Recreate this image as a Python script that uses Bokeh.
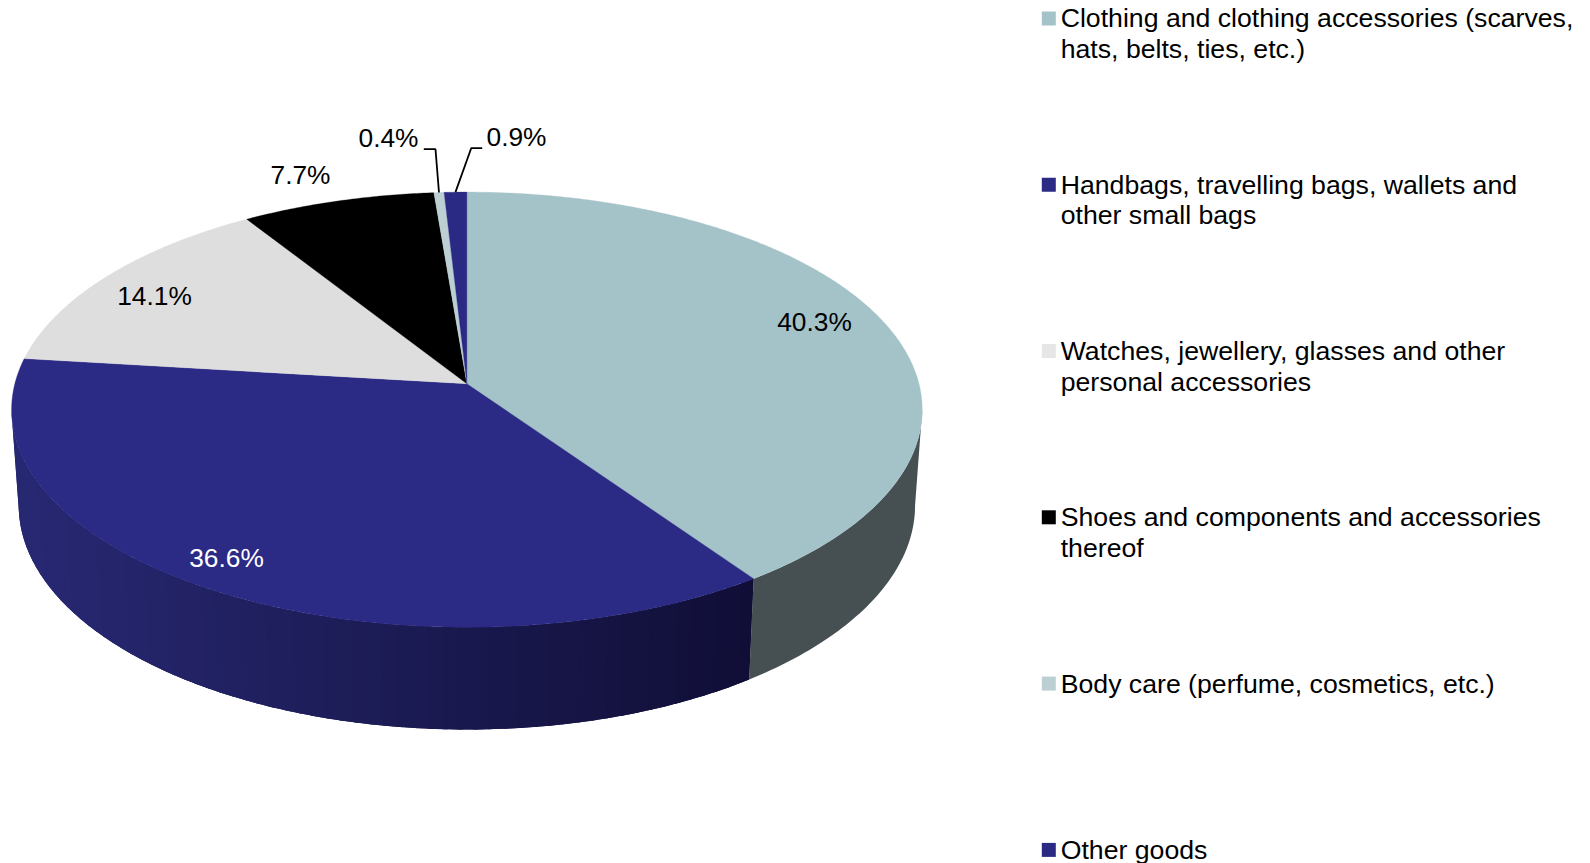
import numpy as np
from bokeh.plotting import figure
from bokeh.models import Range1d
from bokeh.core.properties import value
from bokeh.embed import file_html
from bokeh.resources import INLINE

categories = [
    ["Clothing and clothing accessories (scarves,", "hats, belts, ties, etc.)"],
    ["Handbags, travelling bags, wallets and", "other small bags"],
    ["Watches, jewellery, glasses and other", "personal accessories"],
    ["Shoes and components and accessories", "thereof"],
    ["Body care (perfume, cosmetics, etc.)"],
    ["Other goods"],
]
shares = [40.3, 36.6, 14.1, 7.7, 0.4, 0.9]
labels = ["40.3%", "36.6%", "14.1%", "7.7%", "0.4%", "0.9%"]
colors = ["#A4C3C8", "#2B2A85", "#DEDEDE", "#000000", "#BCCFD3", "#2A2A85"]
swatch_colors = ["#A4C3C8", "#2B2A85", "#E6E6E6", "#000000", "#BCCFD3", "#2A2A85"]
label_colors = ["#000000", "#FFFFFF", "#000000", "#000000", "#000000", "#000000"]

# Layout of the tilted disc (page pixels)
CX, CY, BX, AY, K = 466.4, 383.3, 452.1, 214.5, 0.1188
CY2, BX2, AY2 = 478.2, 445.0, 221.0
label_pos = [(814, 321.5), (226, 557), (154, 295), (300, 174.5), (388, 137.5), (516, 136.5)]
LEG_X, LEG_TX, LEG_Y0, LEG_STEP, LEG_LINE = 1048.3, 1060.2, 17.9, 166.3, 30.6
FS_LABEL = "26.3px"
FS_LEGEND = "26.67px"
FONT = "Liberation Sans"


def top(theta):
    u, v = np.sin(theta), -np.cos(theta)
    w = 1 - K * v
    return CX + BX * u / w, CY + AY * v / w


def bottom(theta):
    u, v = np.sin(theta), -np.cos(theta)
    w = 1 - K * v
    return CX + BX2 * u / w, CY2 + AY2 * v / w


def lerp_color(t):
    a = np.array([0x27, 0x28, 0x72])
    b = np.array([0x10, 0x0E, 0x36])
    c = a + (b - a) * t
    return "#%02x%02x%02x" % tuple(int(round(x)) for x in c)


p = figure(width=1590, height=863, output_backend="svg", toolbar_location=None,
           x_range=Range1d(0, 1590), y_range=Range1d(863, 0), min_border=0)
p.axis.visible = False
p.grid.visible = False
p.outline_line_color = None
p.background_fill_color = "#FFFFFF"
p.border_fill_color = "#FFFFFF"

edges = 2 * np.pi * np.cumsum([0] + shares) / sum(shares)

# Side wall: only the front part of the rim is visible
t_start = np.arccos(-K)
t_end = 2 * np.pi - t_start
xs, ys, fills = [], [], []
# second slice wall (banded shade running along the rim), painted with overlap
steps = np.linspace(t_end, edges[1], 70)
for a, b in zip(steps[:-1], steps[1:]):
    th = np.linspace(a, edges[1] if b - 0.04 < edges[1] else b - 0.04, 6)
    tx, ty = top(th)
    bx, by = bottom(th)
    t = (top(np.array([a]))[0][0] - 22) / (748 - 22)
    xs.append(list(tx) + list(bx[::-1]))
    ys.append(list(ty) + list(by[::-1]))
    fills.append(lerp_color(np.clip(t, 0, 1)))
# first slice wall (flat shade)
th = np.linspace(t_start, edges[1], 60)
tx, ty = top(th)
bx, by = bottom(th)
xs.append(list(tx) + list(bx[::-1]))
ys.append(list(ty) + list(by[::-1]))
fills.append("#465052")
p.patches(xs, ys, fill_color=fills, line_color=None)

# Top face
xs, ys = [], []
for a, b in zip(edges[:-1], edges[1:]):
    th = np.linspace(a, b, max(4, int((b - a) * 120)))
    tx, ty = top(th)
    xs.append([CX] + list(tx))
    ys.append([CY] + list(ty))
p.patches(xs, ys, fill_color=colors, line_color=colors, line_width=0.3)

# Leader lines for the two narrow slices
mid = (edges[:-1] + edges[1:]) / 2
for i, (x0, x1, yy) in {4: (423.3, 435.0, 148.7), 5: (481.7, 470.7, 147.7)}.items():
    ex, ey = top(mid[i])
    p.line([x0, x1, ex], [yy, yy, ey], line_color="#000000", line_width=1.8)

# Data labels
p.text([c[0] for c in label_pos], [c[1] for c in label_pos], text=labels,
       text_color=label_colors, text_align="center", text_baseline="middle",
       text_font=value(FONT), text_font_size=value(FS_LABEL))

# Legend
ly = [LEG_Y0 + LEG_STEP * i for i in range(len(categories))]
p.scatter([LEG_X] * len(ly), ly, marker="square", size=14, fill_color=swatch_colors,
          line_color=None)
tx, ty, tt = [], [], []
for y, lines in zip(ly, categories):
    for j, s in enumerate(lines):
        tx.append(LEG_TX)
        ty.append(y + j * LEG_LINE)
        tt.append(s)
p.text(tx, ty, text=tt, text_color="#000000", text_align="left", text_baseline="middle",
       text_font=value(FONT), text_font_size=value(FS_LEGEND))

open("out.html", "w").write(file_html(p, INLINE))
